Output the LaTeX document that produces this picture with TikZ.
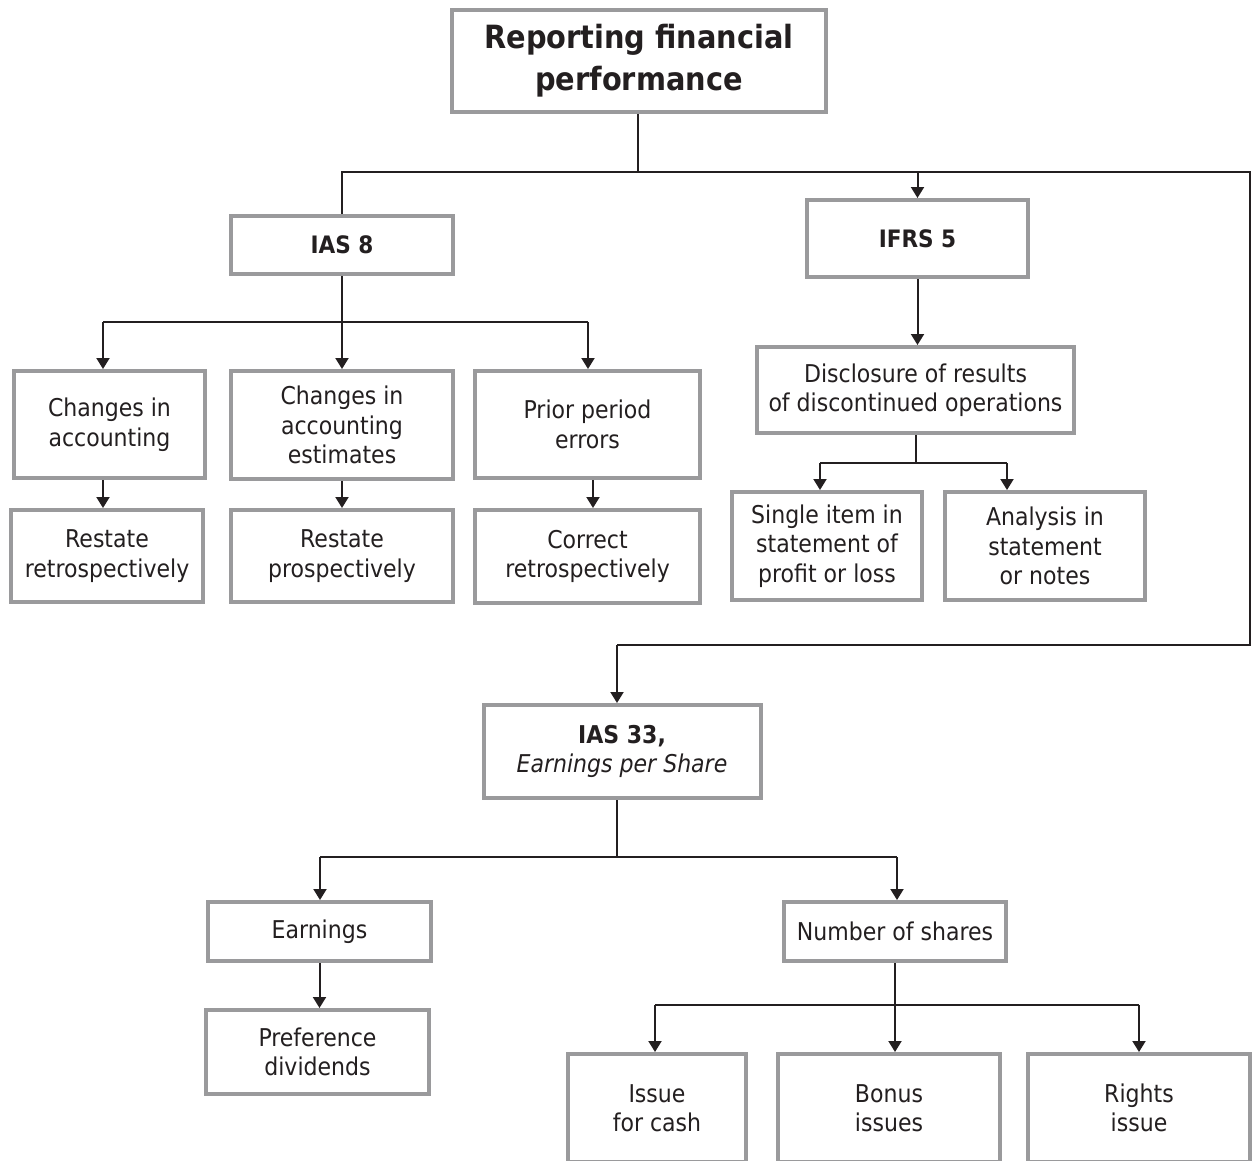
\documentclass[tikz,border=0pt]{standalone}
\usepackage{fontspec}
\setmainfont{DejaVu Sans Condensed}
\usetikzlibrary{arrows.meta}
\definecolor{boxgray}{HTML}{9A9A9C}
\definecolor{ink}{HTML}{231F20}
\begin{document}
\begin{tikzpicture}[x=1pt,y=-1pt,
  box/.style={draw=boxgray, line width=4pt, fill=white, align=center,
    inner sep=0pt, text=ink, font=\fontsize{24.5}{29.5}\selectfont},
  head/.style={box, font=\fontsize{24}{29}\selectfont\bfseries},
  link/.style={draw=ink, line width=2pt},
  arrow/.style={link, -{Triangle[length=11pt,width=13pt]}},
]
\useasboundingbox (0,0) rectangle (1253,1160);
\clip (0,0) rectangle (1253,1160);

% ---- title ----
\node[box, font=\fontsize{32}{42}\selectfont\bfseries,
  minimum width=374pt, minimum height=102pt] (top) at (639,61)
  {Reporting financial\\performance};

% ---- IAS 8 branch ----
\node[head, minimum width=222pt, minimum height=58pt] (ias8) at (342,245) {IAS 8};
\node[box, minimum width=191pt, minimum height=107pt] (ca) at (109.5,424.5)
  {Changes in\\accounting};
\node[box, minimum width=222pt, minimum height=108pt] (cae) at (342,425)
  {Changes in\\accounting\\estimates};
\node[box, minimum width=225pt, minimum height=107pt] (pe) at (587.5,424.5)
  {Prior period\\errors};
\node[box, minimum width=192pt, minimum height=92pt] (rr) at (107,556)
  {Restate\\retrospectively};
\node[box, minimum width=222pt, minimum height=92pt] (rp) at (342,556)
  {Restate\\prospectively};
\node[box, minimum width=225pt, minimum height=93pt] (cr) at (587.5,556.5)
  {Correct\\retrospectively};

% ---- IFRS 5 branch ----
\node[head, minimum width=221pt, minimum height=77pt] (ifrs5) at (917.5,238.5) {IFRS 5};
\node[box, minimum width=317pt, minimum height=86pt] (disc) at (915.5,390)
  {Disclosure of results\\of discontinued operations};
\node[box, minimum width=190pt, minimum height=108pt] (single) at (827,546)
  {Single item in\\statement of\\profit or loss};
\node[box, minimum width=200pt, minimum height=108pt] (analysis) at (1045,546)
  {Analysis in\\statement\\or notes};

% ---- IAS 33 branch ----
\node[box, minimum width=277pt, minimum height=93pt] (ias33) at (622,751.5)
  {\textbf{IAS 33,}\\\textit{Earnings per Share}};
\node[box, minimum width=223pt, minimum height=59pt] (earn) at (319.5,931.5) {Earnings};
\node[box, minimum width=223pt, minimum height=84pt] (pref) at (317.5,1052)
  {Preference\\dividends};
\node[box, minimum width=222pt, minimum height=59pt] (nos) at (895,931.5) {Number of shares};
\node[box, minimum width=178pt, minimum height=108pt] (cash) at (657,1108)
  {Issue\\for cash};
\node[box, minimum width=222pt, minimum height=108pt] (bonus) at (889,1108)
  {Bonus\\issues};
\node[box, minimum width=222pt, minimum height=108pt] (rights) at (1139,1108)
  {Rights\\issue};

% ---- junction points ----
\coordinate (j0) at (638,172);
\coordinate (r1) at (1250,172);
\coordinate (r2) at (1250,645);
\coordinate (r3) at (617,645);
\coordinate (b8) at (343,322);
\coordinate (b8l) at (103,322);
\coordinate (b8r) at (588,322);
\coordinate (pc) at (593,492);
\coordinate (dj) at (916,463);
\coordinate (dl) at (820,463);
\coordinate (dr) at (1007,463);
\coordinate (ej) at (617,857);
\coordinate (el) at (320,857);
\coordinate (er) at (897,857);
\coordinate (nj) at (895,1005);
\coordinate (nl) at (655,1005);
\coordinate (nr) at (1139,1005);

% ---- connectors from the title ----
\draw[link] (top.south -| j0) -- (j0);
\draw[link] (j0) -| (ias8.north);
\draw[arrow] (j0) -| (ifrs5.north);
\draw[link] (j0) -- (r1) -- (r2) -- (r3);
\draw[arrow] (r3) -- (r3 |- ias33.north);

% ---- IAS 8 connectors ----
\draw[link] (ias8.south) -- (ias8.south |- b8);
\draw[link] (b8l) -- (b8r);
\draw[arrow] (b8l) -- (b8l |- ca.north);
\draw[arrow] (ias8.south |- b8) -- (cae.north);
\draw[arrow] (b8r) -- (b8r |- pe.north);
\draw[arrow] (ca.south -| b8l) -- (rr.north -| b8l);
\draw[arrow] (cae.south) -- (rp.north);
\draw[arrow] (pe.south -| pc) -- (cr.north -| pc);

% ---- IFRS 5 connectors ----
\draw[arrow] (ifrs5.south) -- (ifrs5.south |- disc.north);
\draw[link] (disc.south -| dj) -- (dj);
\draw[link] (dl) -- (dr);
\draw[arrow] (dl) -- (dl |- single.north);
\draw[arrow] (dr) -- (dr |- analysis.north);

% ---- IAS 33 connectors ----
\draw[link] (ias33.south -| ej) -- (ej);
\draw[link] (el) -- (er);
\draw[arrow] (el) -- (el |- earn.north);
\draw[arrow] (er) -- (er |- nos.north);
\draw[arrow] (earn.south) -- (earn.south |- pref.north);
\draw[link] (nos.south -| nj) -- (nj);
\draw[link] (nl) -- (nr);
\draw[arrow] (nl) -- (nl |- cash.north);
\draw[arrow] (nj) -- (nj |- bonus.north);
\draw[arrow] (nr) -- (nr |- rights.north);
\end{tikzpicture}
\end{document}
